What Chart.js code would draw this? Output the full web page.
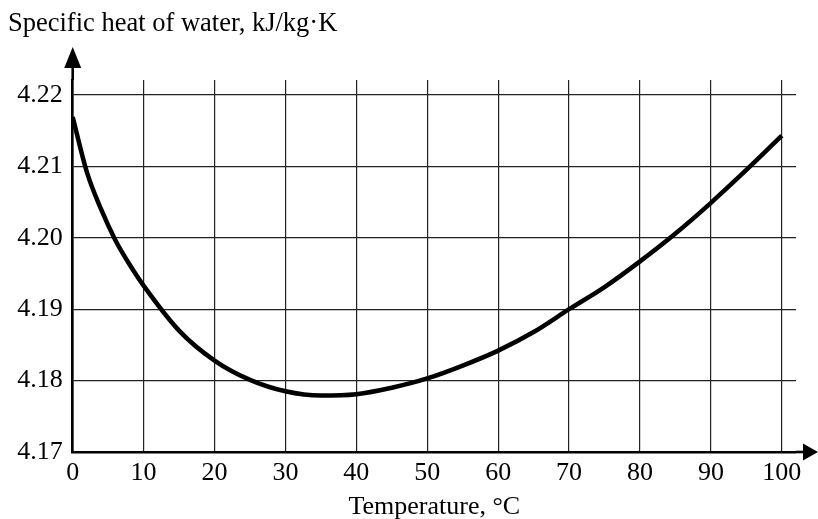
<!DOCTYPE html>
<html>
<head>
<meta charset="utf-8">
<script src="https://cdn.jsdelivr.net/npm/chart.js@4/dist/chart.umd.min.js"></script>
<style>
html,body{margin:0;padding:0;background:#fff;}
#wrap{width:818px;height:519px;}
</style>
</head>
<body>
<div id="wrap"><canvas id="c" width="818" height="519"></canvas></div>
<script>
// Data
const temperatures = [0, 2, 4, 6, 8, 10, 15, 20, 25, 30, 35, 40, 45, 50, 55, 60, 65, 70, 75, 80, 85, 90, 95, 100];
const specificHeat = [4.2169, 4.2092, 4.2040, 4.1997, 4.1963, 4.1933, 4.1870, 4.1828, 4.1801, 4.1785, 4.1779, 4.1781, 4.1790, 4.1803, 4.1821, 4.1842, 4.1868, 4.1900, 4.1931, 4.1967, 4.2006, 4.2049, 4.2095, 4.2143];
const xTicks = [0, 10, 20, 30, 40, 50, 60, 70, 80, 90, 100];
const yTicks = [4.17, 4.18, 4.19, 4.20, 4.21, 4.22];
const chartTitle = 'Specific heat of water, kJ/kg\u00B7K';
const xTitle = 'Temperature, \u00B0C';

const FONT = "'Liberation Serif', 'Times New Roman', serif";

const arrows = {
  id: 'arrows',
  afterDraw(chart) {
    const ctx = chart.ctx;
    const xs = chart.scales.x, ys = chart.scales.y;
    const x0 = xs.getPixelForValue(xs.min);
    const y0 = ys.getPixelForValue(ys.min);
    const top = chart.chartArea.top, right = chart.chartArea.right;
    ctx.save();
    ctx.strokeStyle = '#000';
    ctx.fillStyle = '#000';
    ctx.lineWidth = 2.6;
    // y axis extension + arrow
    ctx.beginPath();
    ctx.moveTo(x0, top);
    ctx.lineTo(x0, top - 14);
    ctx.stroke();
    ctx.beginPath();
    ctx.moveTo(x0, top - 33);
    ctx.lineTo(x0 - 8.5, top - 12);
    ctx.lineTo(x0 + 8.5, top - 12);
    ctx.closePath();
    ctx.fill();
    // x axis extension + arrow
    ctx.beginPath();
    ctx.moveTo(right, y0);
    ctx.lineTo(right + 9, y0);
    ctx.stroke();
    ctx.beginPath();
    ctx.moveTo(right + 22, y0);
    ctx.lineTo(right + 7, y0 - 8.5);
    ctx.lineTo(right + 7, y0 + 8.5);
    ctx.closePath();
    ctx.fill();
    ctx.restore();
  }
};

new Chart(document.getElementById('c'), {
  type: 'line',
  data: {
    datasets: [{
      data: temperatures.map((t, i) => ({x: t, y: specificHeat[i]})),
      borderColor: '#000',
      borderWidth: 4.5,
      pointRadius: 0,
      cubicInterpolationMode: 'monotone',
      fill: false
    }]
  },
  options: {
    responsive: false,
    animation: false,
    devicePixelRatio: 1,
    layout: { padding: { left: 8, right: 22, top: 0, bottom: 0 } },
    plugins: {
      legend: { display: false },
      tooltip: { enabled: false },
      title: {
        display: true,
        text: chartTitle,
        align: 'start',
        color: '#000',
        font: { family: FONT, size: 26.5, weight: 'normal' },
        padding: { top: 8.3, bottom: 39.9 }
      }
    },
    scales: {
      x: {
        type: 'linear',
        min: 0,
        max: 102,
        afterBuildTicks: s => { s.ticks = xTicks.map(v => ({value: v})); },
        afterFit: s => { s.height = 67; },
        ticks: {
          color: '#000',
          padding: 6,
          maxRotation: 0,
          font: { family: FONT, size: 26 },
          callback: v => String(v)
        },
        grid: { color: '#222', lineWidth: 1.2, drawTicks: false },
        border: { display: true, color: '#000', width: 2.6 },
        title: {
          display: true,
          text: xTitle,
          color: '#000',
          font: { family: FONT, size: 26, lineHeight: 0.8 },
          padding: { top: 0, bottom: 1 }
        }
      },
      y: {
        type: 'linear',
        min: 4.17,
        max: 4.2221,
        afterBuildTicks: s => { s.ticks = yTicks.map(v => ({value: v})); },
        afterFit: s => { s.width = 64.7; },
        ticks: {
          color: '#000',
          padding: 10,
          font: { family: FONT, size: 26 },
          callback: v => Number(v).toFixed(2)
        },
        grid: { color: '#222', lineWidth: 1.2, drawTicks: false },
        border: { display: true, color: '#000', width: 2.6 }
      }
    }
  },
  plugins: [arrows]
});
</script>
</body>
</html>
